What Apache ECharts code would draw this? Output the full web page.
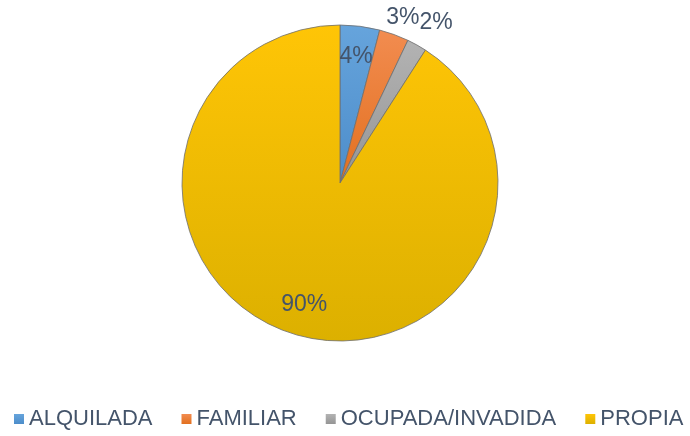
<!DOCTYPE html>
<html>
<head>
<meta charset="utf-8">
<script src="https://cdn.jsdelivr.net/npm/echarts@6/dist/echarts.min.js"></script>
<style>
  html, body { margin: 0; padding: 0; background: #fff; }
  #chart { width: 690px; height: 436px; }
</style>
</head>
<body>
<div id="chart"></div>
<script>
const categories = ['ALQUILADA', 'FAMILIAR', 'OCUPADA/INVADIDA', 'PROPIA']
const percents = [4, 3, 2, 90]

// top / bottom colour of each slice's gradient
const colorArr = [
  ['#66A4DC', '#4D8DCA'],
  ['#F28C50', '#E2701F'],
  ['#B3B3B3', '#959595'],
  ['#FFC506', '#DCB000'],
]
// labels drawn outside (small slices) : line length / back offset
const outsideLabel = {
  1: { length: 18, length2: -19 },
  2: { length: 26, length2: -15 },
}
const textColor = '#44546A'
const fontFamily = '"Liberation Sans", Arial, sans-serif'

const chart = echarts.init(document.getElementById('chart'))

const mainData = categories.map((name, i) => {
  const item = {
    name: name,
    value: percents[i],
    itemStyle: {
      color: new echarts.graphic.LinearGradient(0, 0, 0, 1, [
        { offset: 0, color: colorArr[i][0] },
        { offset: 1, color: colorArr[i][1] },
      ]),
    },
    label: { show: false },
  }
  if (outsideLabel[i]) {
    item.label = { show: true, position: 'outside' }
    item.labelLine = {
      show: false,
      length: outsideLabel[i].length,
      length2: outsideLabel[i].length2,
    }
  }
  return item
})

// transparent copy, only used to place the inner labels further out
const labelData = categories.map((name, i) => ({
  name: name,
  value: percents[i],
  label: { show: !outsideLabel[i] },
}))

chart.setOption({
  animation: false,
  legend: {
    data: categories,
    left: 14,
    top: 407,
    width: 690,
    padding: 0,
    itemWidth: 10,
    itemHeight: 10,
    itemGap: 29,
    icon: 'rect',
    itemStyle: { borderWidth: 0 },
    textStyle: {
      color: textColor,
      fontSize: 22,
      fontFamily: fontFamily,
      lineHeight: 24,
    },
  },
  series: [
    {
      type: 'pie',
      center: [340, 183],
      radius: [0, 158],
      startAngle: 90,
      clockwise: true,
      avoidLabelOverlap: false,
      emphasis: { disabled: true },
      itemStyle: {
        borderColor: 'rgba(110,110,110,0.8)',
        borderWidth: 1,
      },
      label: {
        formatter: '{c}%',
        color: textColor,
        fontSize: 23,
        fontFamily: fontFamily,
        distanceToLabelLine: 5,
      },
      data: mainData,
    },
    {
      type: 'pie',
      center: [340, 183],
      radius: [0, 248],
      startAngle: 90,
      clockwise: true,
      silent: true,
      avoidLabelOverlap: false,
      emphasis: { disabled: true },
      itemStyle: { color: 'rgba(0,0,0,0)', borderWidth: 0 },
      label: {
        position: 'inside',
        formatter: '{c}%',
        color: textColor,
        fontSize: 23,
        fontFamily: fontFamily,
      },
      labelLine: { show: false },
      data: labelData,
    },
  ],
})
</script>
</body>
</html>
